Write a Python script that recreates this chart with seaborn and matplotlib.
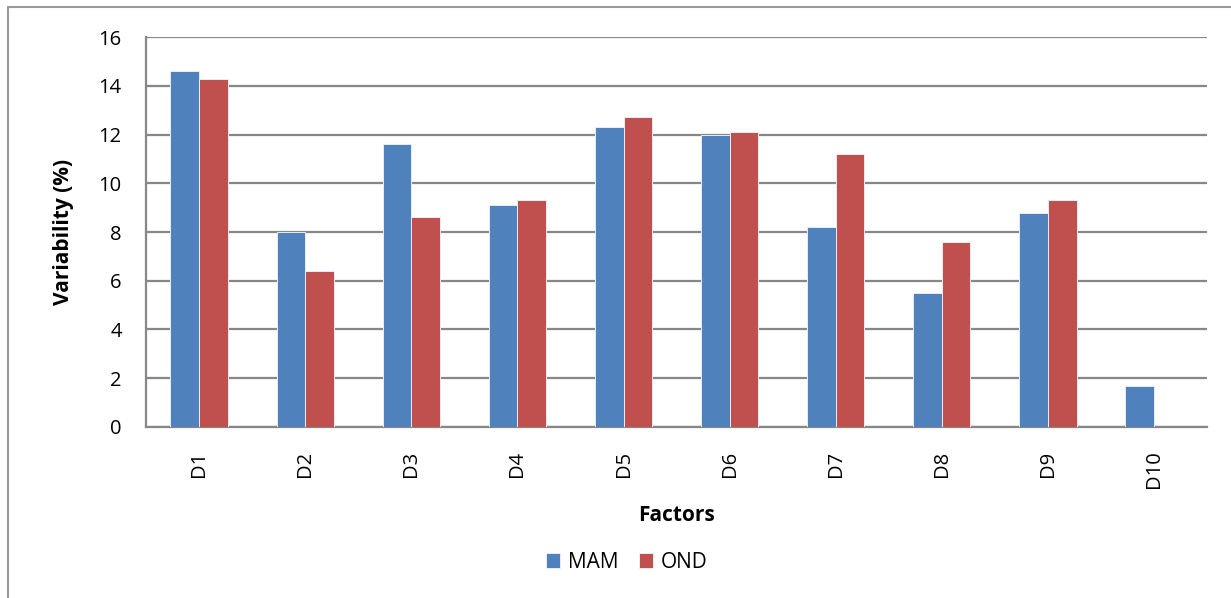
import pandas as pd
import numpy as np
import matplotlib
matplotlib.use("Agg")
import matplotlib.pyplot as plt
import seaborn as sns

# data
factors = ["D1", "D2", "D3", "D4", "D5", "D6", "D7", "D8", "D9", "D10"]
mam = [14.6, 8.0, 11.6, 9.1, 12.3, 12.0, 8.2, 5.5, 8.8, 1.7]
ond = [14.3, 6.4, 8.6, 9.3, 12.7, 12.1, 11.2, 7.6, 9.3, np.nan]
seasons = ["MAM", "OND"]
colors = ["#4F81BD", "#C0504D"]

df = pd.DataFrame({
    "Factors": factors * 2,
    "value": mam + ond,
    "season": ["MAM"] * len(factors) + ["OND"] * len(factors),
})

sns.set_style("white")
plt.rcParams["font.family"] = ["Open Sans", "DejaVu Sans"]
plt.rcParams["text.color"] = "black"
plt.rcParams["axes.labelcolor"] = "black"
plt.rcParams["xtick.labelcolor"] = "black"
plt.rcParams["ytick.labelcolor"] = "black"

fig = plt.figure(figsize=(12.31, 5.98), dpi=100)
ax = fig.add_axes([0.1186, 0.286, 0.862, 0.652])

sns.barplot(data=df, x="Factors", y="value", hue="season", order=factors,
            hue_order=seasons, palette=colors, width=0.54, saturation=1,
            edgecolor="#e8eef6", linewidth=0.7, ax=ax, zorder=3)

grid_c = "#878787"
ax.set_ylim(0, 16)
ax.set_yticks(range(0, 17, 2))
ax.set_xlim(-0.5, len(factors) - 0.5)
ax.yaxis.grid(True, color=grid_c, linewidth=1.6, zorder=0)
ax.set_axisbelow(True)

for s in ["top", "right"]:
    ax.spines[s].set_visible(False)
for s in ["left", "bottom"]:
    ax.spines[s].set_color(grid_c)
    ax.spines[s].set_linewidth(1.6)

# category labels centred, tick marks between categories
ax.set_xticks(range(len(factors)))
ax.set_xticklabels(factors, rotation=90, fontsize=14.5)
ax.set_xticks(np.arange(-0.5, len(factors), 1), minor=True)
ax.tick_params(axis="x", which="major", length=0, pad=17)
ax.tick_params(axis="x", which="minor", length=5, color=grid_c, width=1.4, direction="out")
ax.tick_params(axis="y", length=6.5, color=grid_c, width=1.4, direction="out", labelsize=14.5, pad=11)

ax.set_xlabel("Factors", fontsize=15, fontweight="bold", labelpad=12)
ax.set_ylabel("Variability (%)", fontsize=15, fontweight="bold", labelpad=18)

handles, labels = ax.get_legend_handles_labels()
ax.get_legend().remove()
fig.legend(handles, labels, loc="center", bbox_to_anchor=(0.509, 0.06), ncol=2,
           frameon=False, fontsize=15, handlelength=0.7, handleheight=0.7,
           handletextpad=0.35, columnspacing=1.0)

# outer chart frame (left and top edges visible)
fig.add_artist(plt.Line2D([0.0065, 0.0065], [0.0, 0.988], color="#9a9a9a", linewidth=1.5,
                          transform=fig.transFigure))
fig.add_artist(plt.Line2D([0.0065, 1.0], [0.988, 0.988], color="#9a9a9a", linewidth=1.5,
                          transform=fig.transFigure))

fig.savefig("out.png", dpi=100)
